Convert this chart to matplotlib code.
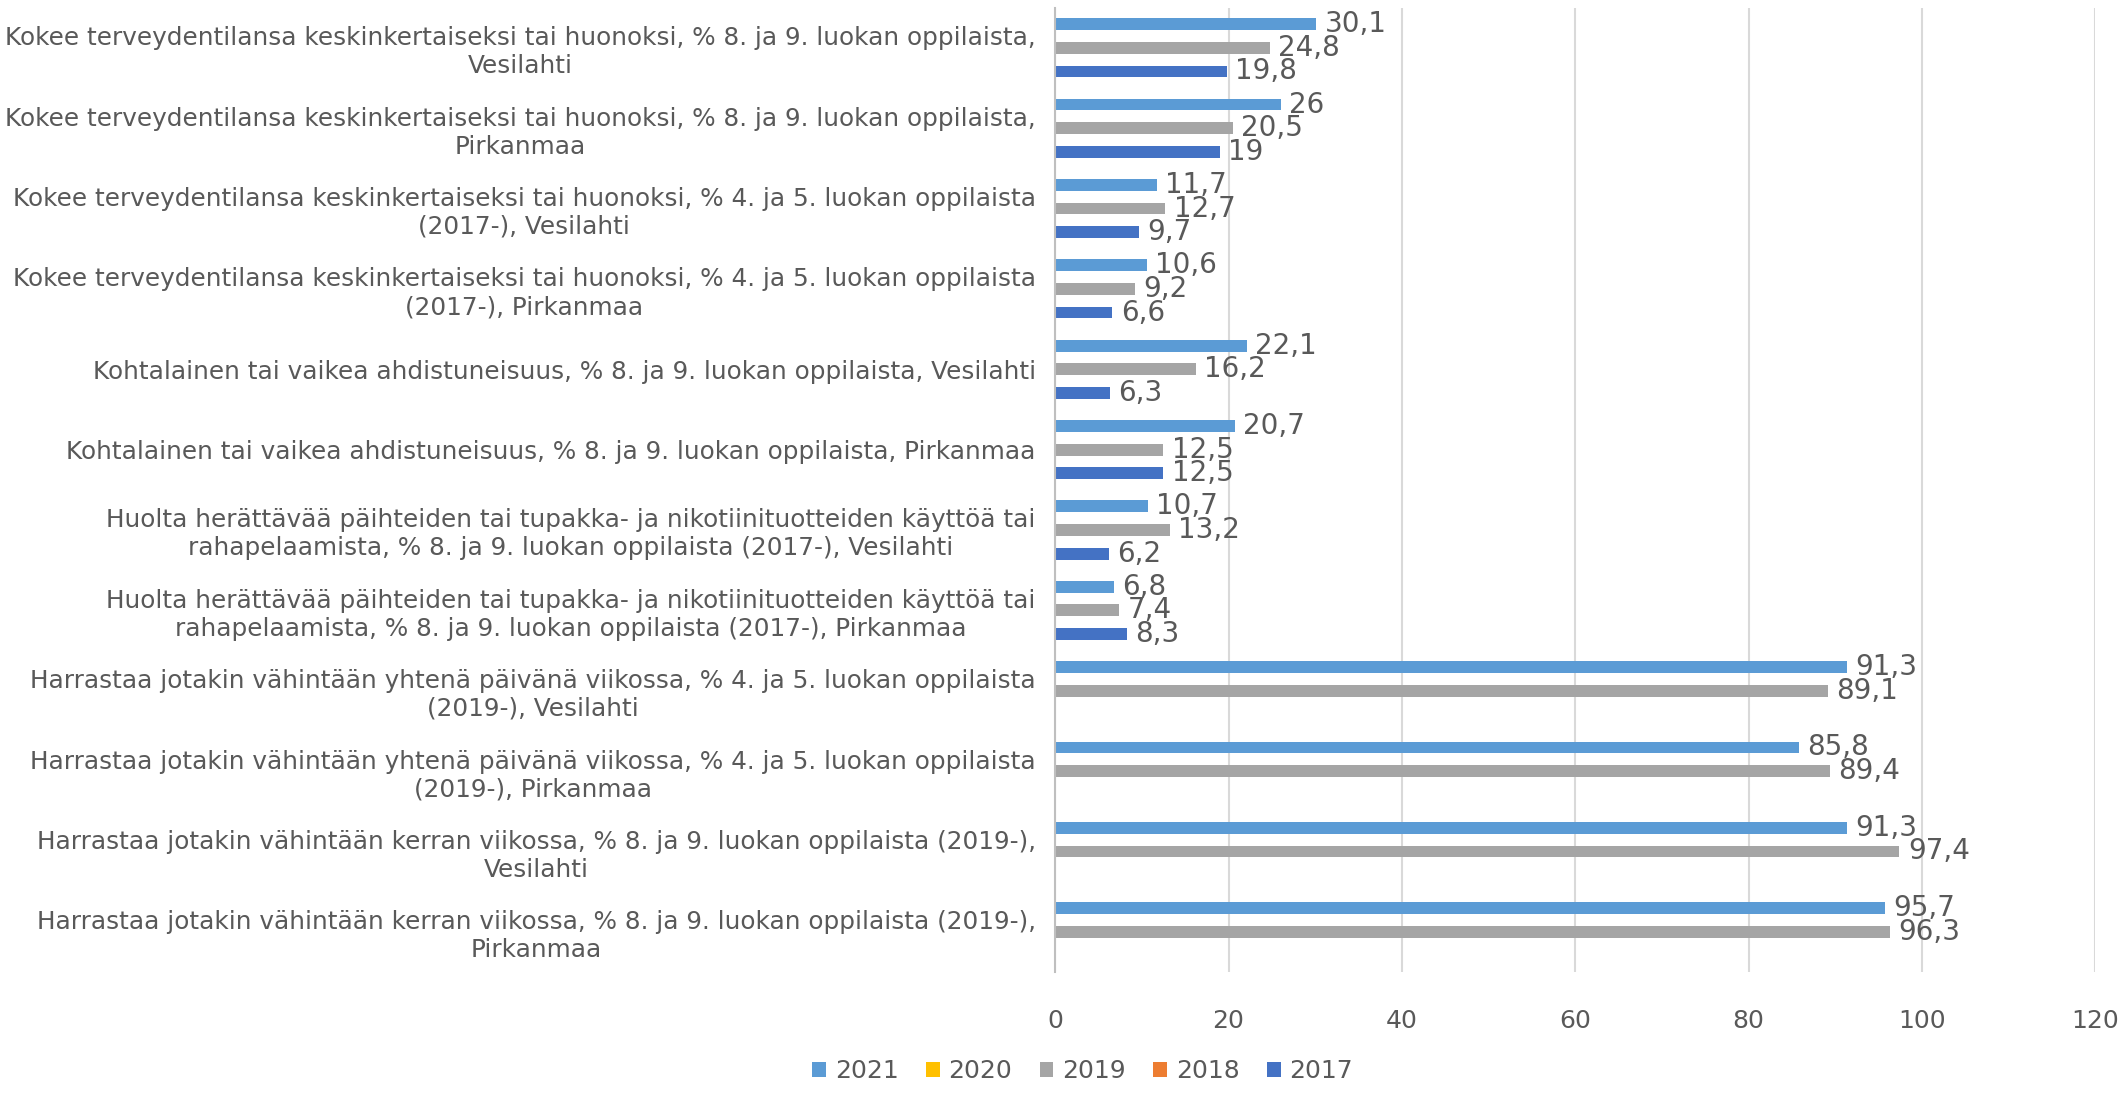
import numpy as np
import matplotlib
matplotlib.use("Agg")
import matplotlib.pyplot as plt

categories = [
    "Kokee terveydentilansa keskinkertaiseksi tai huonoksi, % 8. ja 9. luokan oppilaista,\nVesilahti",
    "Kokee terveydentilansa keskinkertaiseksi tai huonoksi, % 8. ja 9. luokan oppilaista,\nPirkanmaa",
    "Kokee terveydentilansa keskinkertaiseksi tai huonoksi, % 4. ja 5. luokan oppilaista\n(2017-), Vesilahti",
    "Kokee terveydentilansa keskinkertaiseksi tai huonoksi, % 4. ja 5. luokan oppilaista\n(2017-), Pirkanmaa",
    "Kohtalainen tai vaikea ahdistuneisuus, % 8. ja 9. luokan oppilaista, Vesilahti",
    "Kohtalainen tai vaikea ahdistuneisuus, % 8. ja 9. luokan oppilaista, Pirkanmaa",
    "Huolta herättävää päihteiden tai tupakka- ja nikotiinituotteiden käyttöä tai\nrahapelaamista, % 8. ja 9. luokan oppilaista (2017-), Vesilahti",
    "Huolta herättävää päihteiden tai tupakka- ja nikotiinituotteiden käyttöä tai\nrahapelaamista, % 8. ja 9. luokan oppilaista (2017-), Pirkanmaa",
    "Harrastaa jotakin vähintään yhtenä päivänä viikossa, % 4. ja 5. luokan oppilaista\n(2019-), Vesilahti",
    "Harrastaa jotakin vähintään yhtenä päivänä viikossa, % 4. ja 5. luokan oppilaista\n(2019-), Pirkanmaa",
    "Harrastaa jotakin vähintään kerran viikossa, % 8. ja 9. luokan oppilaista (2019-),\nVesilahti",
    "Harrastaa jotakin vähintään kerran viikossa, % 8. ja 9. luokan oppilaista (2019-),\nPirkanmaa",
]

series_names = ["2021", "2020", "2019", "2018", "2017"]
nan = np.nan
values_2021 = [30.1, 26, 11.7, 10.6, 22.1, 20.7, 10.7, 6.8, 91.3, 85.8, 91.3, 95.7]
values_2020 = [nan] * 12
values_2019 = [24.8, 20.5, 12.7, 9.2, 16.2, 12.5, 13.2, 7.4, 89.1, 89.4, 97.4, 96.3]
values_2018 = [nan] * 12
values_2017 = [19.8, 19, 9.7, 6.6, 6.3, 12.5, 6.2, 8.3, nan, nan, nan, nan]
colors = ["#5B9BD5", "#FFC000", "#A5A5A5", "#ED7D31", "#4472C4"]
xticks = [0, 20, 40, 60, 80, 100, 120]

all_series = [values_2021, values_2020, values_2019, values_2018, values_2017]
text_color = "#595959"

fig = plt.figure(figsize=(21.23, 10.97), dpi=100)
ax = fig.add_axes([0.497, 0.114, 0.49, 0.879])

y = np.arange(len(categories))
h = 0.147
for i, (name, vals, col) in enumerate(zip(series_names, all_series, colors)):
    offs = (i - 2) * h
    bars = ax.barh(y + offs, vals, height=h, color=col, label=name)
    labels = ["" if np.isnan(v) else f"{v:g}".replace(".", ",") for v in vals]
    ax.bar_label(bars, labels=labels, padding=6, fontsize=20, color=text_color)

ax.set_ylim(len(categories) - 0.5, -0.5)
ax.set_xlim(0, 120)
ax.set_xticks(xticks)
ax.set_xticklabels([str(t) for t in xticks], fontsize=18, color=text_color)
ax.set_yticks(y)
ax.set_yticklabels(categories, fontsize=17.8, color=text_color, multialignment="center")
ax.tick_params(axis="both", length=0)
ax.tick_params(axis="x", pad=27)
ax.tick_params(axis="y", pad=14)

ax.grid(axis="x", color="#D9D9D9", linewidth=1.5)
ax.set_axisbelow(True)
for s in ["top", "right", "bottom"]:
    ax.spines[s].set_visible(False)
ax.spines["left"].set_color("#BFBFBF")
ax.spines["left"].set_linewidth(1.5)

leg = fig.legend(loc="lower center", bbox_to_anchor=(0.51, -0.008), ncol=5, frameon=False,
                 fontsize=18, handlelength=0.55, handleheight=0.55, handletextpad=0.35,
                 columnspacing=1.1)
for t in leg.get_texts():
    t.set_color(text_color)

fig.savefig("out.png", dpi=100)
